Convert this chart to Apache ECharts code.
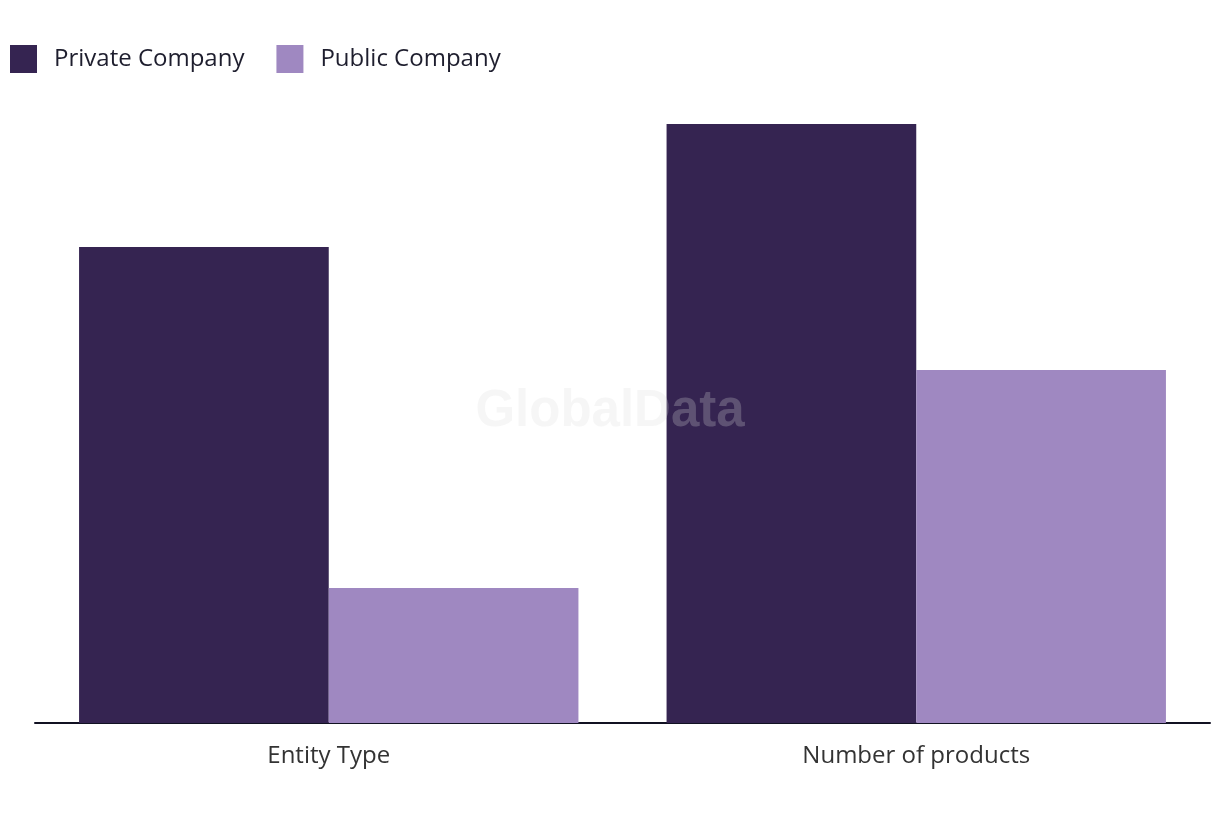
<!DOCTYPE html>
<html><head><meta charset="utf-8">
<script src="https://cdn.jsdelivr.net/npm/echarts@6/dist/echarts.min.js"></script>
<style>html,body{margin:0;padding:0;background:#fff}#c{width:1220px;height:820px}</style>
</head><body><div id="c"></div>
<script>
const categories = ['Entity Type', 'Number of products'];
const seriesNames = ['Private Company', 'Public Company'];
const privateValues = [47.6, 59.9];
const publicValues = [13.5, 35.3];
const colors = ['#352451', '#9f88c1'];

const chart = echarts.init(document.getElementById('c'));
chart.setOption({
  animation: false,
  backgroundColor: '#ffffff',
  graphic: [{
    type: 'text', left: 'center', top: 386, z: 100,
    style: { text: 'GlobalData', font: 'bold 51px "Liberation Sans", Arial, sans-serif', fill: 'rgba(220,220,220,0.25)' }
  }],
  legend: {
    left: 5, top: 40, itemWidth: 27, itemHeight: 28, itemGap: 32,
    icon: 'rect',
    textStyle: { fontSize: 24, color: '#1e1e2e', fontFamily: '"Open Sans", sans-serif', padding: [0, 0, 0, 12] },
    data: seriesNames
  },
  grid: { left: 35, right: 10, top: 124, bottom: 97 },
  xAxis: {
    type: 'category', data: categories,
    axisLine: { lineStyle: { color: '#111122', width: 2 } },
    axisTick: { show: false },
    axisLabel: { fontSize: 24, color: '#333', margin: 21, fontFamily: '"Open Sans", sans-serif' }
  },
  yAxis: {
    type: 'value', min: 0, max: 59.9, show: false,
    splitLine: { show: false }
  },
  series: [
    { name: seriesNames[0], type: 'bar', data: privateValues, itemStyle: { color: colors[0] }, barGap: '0%', barCategoryGap: '15%' },
    { name: seriesNames[1], type: 'bar', data: publicValues, itemStyle: { color: colors[1] }, barGap: '0%', barCategoryGap: '15%' }
  ]
});
</script></body></html>
